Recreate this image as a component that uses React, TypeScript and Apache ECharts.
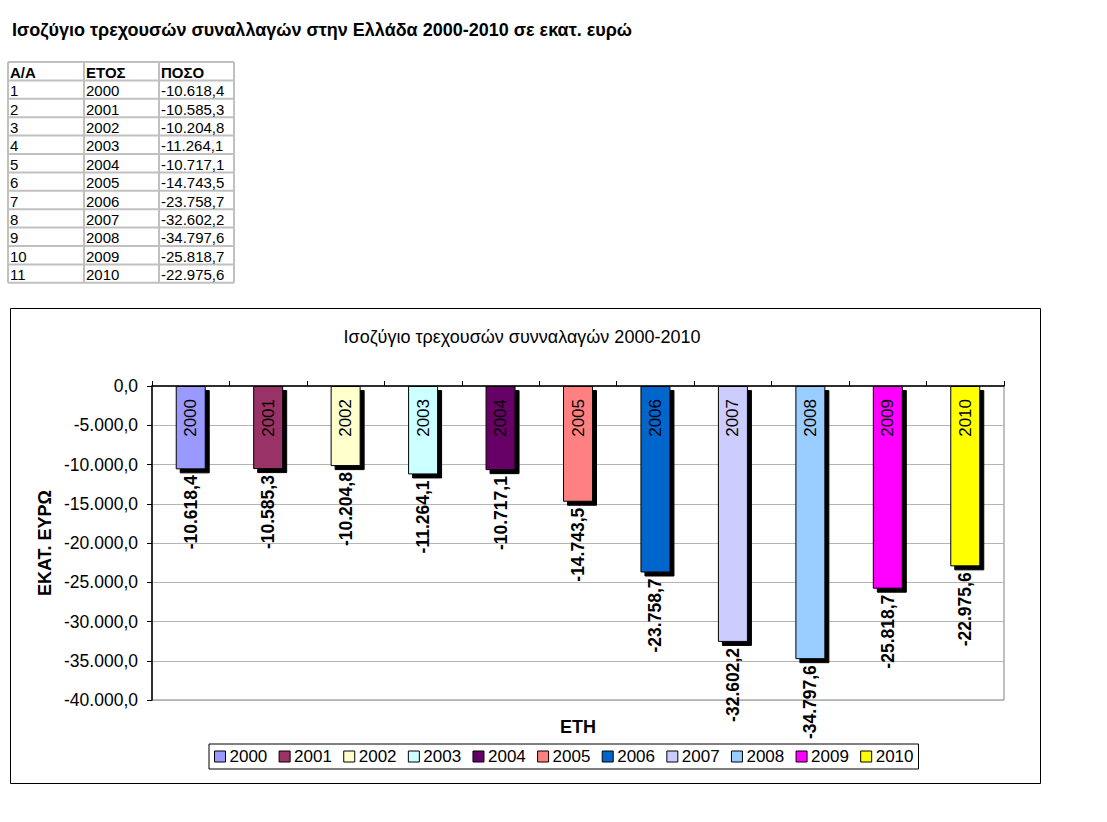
import React, { useEffect, useRef } from "react";
import * as echarts from "echarts";

const years = ["2000", "2001", "2002", "2003", "2004", "2005", "2006", "2007", "2008", "2009", "2010"];
const values = [-10618.4, -10585.3, -10204.8, -11264.1, -10717.1, -14743.5, -23758.7, -32602.2, -34797.6, -25818.7, -22975.6];
const colors = ["#9999FF", "#993366", "#FFFFCC", "#CCFFFF", "#660066", "#FF8080", "#0066CC", "#CCCCFF", "#99CCFF", "#FF00FF", "#FFFF00"];
const tableHeaders = ["Α/Α", "ΕΤΟΣ", "ΠΟΣΟ"];
const pageTitle = "Ισοζύγιο τρεχουσών συναλλαγών στην Ελλάδα 2000-2010 σε εκατ. ευρώ";
const chartTitle = "Ισοζύγιο τρεχουσών συνναλαγών 2000-2010";
const yAxisName = "ΕΚΑΤ. ΕΥΡΩ";
const xAxisName = "ΕΤΗ";
const yMin = -40000;
const yMax = 0;
const yInterval = 5000;

const FONT = "'Liberation Sans', Arial, Helvetica, sans-serif";

function fmt(v: number): string {
  const neg = v < 0;
  const s = Math.abs(v).toFixed(1);
  const [ip, dp] = s.split(".");
  const withDots = ip.replace(/\B(?=(\d{3})+(?!\d))/g, ".");
  return (neg ? "-" : "") + withDots + "," + dp;
}

export default function App() {
  const ref = useRef<HTMLDivElement>(null);
  useEffect(() => {
    if (!ref.current) return;
    const chart = echarts.init(ref.current, undefined, { renderer: "svg" });

    const colX = [8, 84, 159, 234];
    const rowTop = 62;
    const rowH = 18.4;
    const nRows = years.length + 1;
    const tableEls: any[] = [];
    for (let r = 0; r <= nRows; r++) {
      tableEls.push({
        type: "line",
        shape: { x1: colX[0], y1: rowTop + r * rowH, x2: colX[3], y2: rowTop + r * rowH },
        style: { stroke: "#c0c0c0", lineWidth: 2 },
      });
    }
    for (let c = 0; c < colX.length; c++) {
      tableEls.push({
        type: "line",
        shape: { x1: colX[c], y1: rowTop, x2: colX[c], y2: rowTop + nRows * rowH },
        style: { stroke: "#c0c0c0", lineWidth: 2 },
      });
    }
    tableHeaders.forEach((h, c) => {
      tableEls.push({
        type: "text",
        x: colX[c] + 2,
        y: rowTop + rowH / 2 + 1,
        style: { text: h, font: `bold 15px ${FONT}`, fill: "#000", textVerticalAlign: "middle" },
      });
    });
    years.forEach((y, i) => {
      const cells = [String(i + 1), y, fmt(values[i])];
      cells.forEach((t, c) => {
        tableEls.push({
          type: "text",
          x: colX[c] + 2,
          y: rowTop + (i + 1) * rowH + rowH / 2 + 1,
          style: { text: t, font: `15px ${FONT}`, fill: "#000", textVerticalAlign: "middle" },
        });
      });
    });

    const series: any[] = years.map((y, i) => ({
      name: y,
      type: "bar",
      barWidth: 30,
      barGap: "-100%",
      data: values.map((v, j) => (j === i ? v : "-")),
      itemStyle: {
        color: colors[i],
        borderColor: "#000",
        borderWidth: 1,
        shadowColor: "#000",
        shadowOffsetX: 4,
        shadowOffsetY: 4,
        shadowBlur: 0,
      },
      label: {
        show: true,
        position: "bottom",
        distance: 6,
        rotate: 90,
        align: "right",
        verticalAlign: "middle",
        fontFamily: FONT,
        fontSize: 17.5,
        fontWeight: "bold",
        color: "#000",
        formatter: (p: any) => fmt(p.value),
      },
    }));
    series.push({
      name: "labels",
      type: "bar",
      barWidth: 30,
      barGap: "-100%",
      data: values,
      itemStyle: { color: "rgba(0,0,0,0)" },
      label: {
        show: true,
        position: "insideTop",
        distance: 13,
        rotate: 90,
        align: "right",
        verticalAlign: "middle",
        fontFamily: FONT,
        fontSize: 17,
        color: "#000",
        formatter: (p: any) => years[p.dataIndex],
      },
      silent: true,
    });

    chart.setOption({
      animation: false,
      backgroundColor: "#fff",
      textStyle: { fontFamily: FONT },
      grid: {
        left: 152,
        top: 386,
        width: 852,
        height: 314,
        show: true,
        borderColor: "#808080",
        borderWidth: 1,
        backgroundColor: "transparent",
      },
      legend: {
        data: years,
        left: 209,
        top: 744,
        orient: "horizontal",
        itemWidth: 11,
        itemHeight: 11,
        itemGap: 11.3,
        icon: "rect",
        padding: [4, 5, 4, 5],
        borderColor: "#000",
        borderWidth: 1,
        textStyle: { fontFamily: FONT, fontSize: 17, color: "#000", padding: [0, 0, 0, -1] },
        itemStyle: { borderColor: "#000", borderWidth: 1, shadowBlur: 0, shadowOffsetX: 0, shadowOffsetY: 0, shadowColor: "transparent" },
      },
      xAxis: {
        type: "category",
        data: years,
        position: "top",
        axisLine: { show: true, lineStyle: { color: "#000", width: 1.5 } },
        axisTick: { show: true, length: 5, lineStyle: { color: "#000" } },
        axisLabel: { show: false },
        splitLine: { show: false },
      },
      yAxis: {
        type: "value",
        min: yMin,
        max: yMax,
        interval: yInterval,
        axisLine: { show: true, lineStyle: { color: "#000", width: 1.5 } },
        axisTick: { show: true, length: 5, lineStyle: { color: "#000" } },
        axisLabel: {
          margin: 14,
          fontFamily: FONT,
          fontSize: 17.5,
          color: "#000",
          formatter: (v: number) => fmt(v),
        },
        splitLine: { show: true, lineStyle: { color: "#b4b4b4", width: 1 } },
      },
      series,
      graphic: [
        {
          type: "text",
          left: 12,
          top: 21,
          style: { text: pageTitle, font: `bold 18px ${FONT}`, fill: "#000" },
        },
        ...tableEls,
        {
          type: "rect",
          shape: { x: 10.5, y: 308.5, width: 1030, height: 475 },
          style: { fill: "none", stroke: "#000", lineWidth: 1 },
          z: -10,
        },
        {
          type: "text",
          x: 522,
          y: 337,
          style: { text: chartTitle, font: `18px ${FONT}`, fill: "#000", textAlign: "center", textVerticalAlign: "middle" },
        },
        {
          type: "text",
          x: 578,
          y: 727,
          style: { text: xAxisName, font: `bold 18px ${FONT}`, fill: "#000", textAlign: "center", textVerticalAlign: "middle" },
        },
        {
          type: "text",
          x: 45,
          y: 543,
          rotation: Math.PI / 2,
          style: { text: yAxisName, font: `bold 18px ${FONT}`, fill: "#000", textAlign: "center", textVerticalAlign: "middle" },
        },
      ],
    });
    return () => chart.dispose();
  }, []);
  return (
    <div
      ref={ref}
      style={{ position: "absolute", left: 0, top: 0, width: 1107, height: 822 }}
    />
  );
}
